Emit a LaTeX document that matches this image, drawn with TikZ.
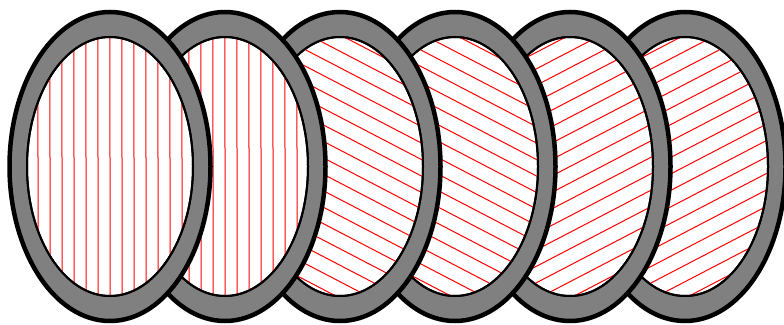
\documentclass[tikz,border=0pt]{standalone}
\usepackage{tikz}

\definecolor{hatchred}{RGB}{255,0,0}

\begin{document}
\begin{tikzpicture}[x=1bp,y=1bp,
    rim/.style={fill=black!50, draw=black, line width=4.5bp},
    hole/.style={fill=white, draw=black, line width=2bp},
    hatch/.style={draw=hatchred, line width=1bp}]
    \useasboundingbox (0,0) rectangle (784,324);
            % right to left, so the left ring lies on top
            \foreach \i/\a/\s in {5/27.5/14.6, 4/27.5/14.6, 3/-27.5/14.6, 2/-27.5/14.6, 1/90.01/12, 0/90.01/12}{
                \coordinate (c\i) at (110 + \i * 115, 157.5);
                \draw[rim] (c\i) ellipse [x radius=100.5, y radius=154.5];
                \draw[hole] (c\i) ellipse [x radius=83, y radius=129.5];
                \begin{scope}
                    \clip (c\i) ellipse [x radius=83, y radius=129.5];
                    \foreach \k in {-12,...,12}{
                        \draw[hatch] ([shift={(\a+90:\k*\s)}]c\i) ++(\a:-170) -- ++(\a:340);
                    }
                \end{scope}
                \draw[hole, fill=none] (c\i) ellipse [x radius=83, y radius=129.5];
            }
        \end{tikzpicture}
\end{document}
